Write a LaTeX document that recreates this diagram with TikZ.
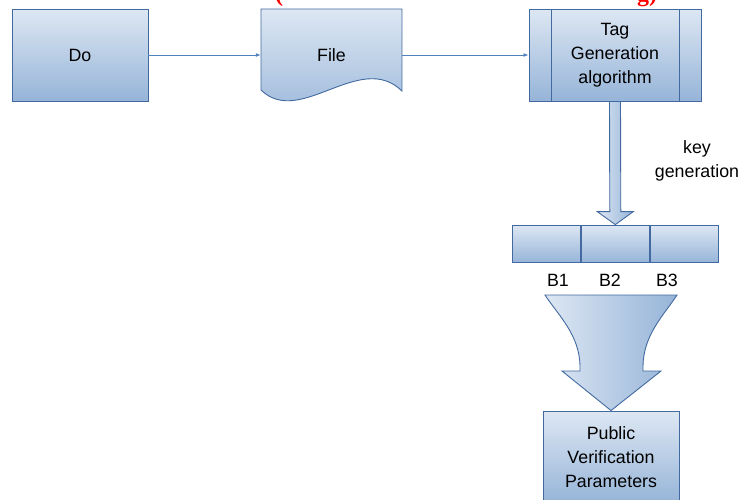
\documentclass[tikz,border=0pt]{standalone}
\usepackage{fontspec}
\setmainfont{Liberation Sans}
\newfontfamily\serifred{Liberation Serif}
\usetikzlibrary{arrows.meta}
\definecolor{boxtop}{RGB}{221,231,243}
\definecolor{boxbot}{RGB}{150,180,216}
\definecolor{boxline}{RGB}{66,106,160}
\definecolor{linkline}{RGB}{79,129,189}
\definecolor{titlered}{RGB}{255,0,0}
\tikzset{
  shaded/.style={top color=boxtop, bottom color=boxbot, draw=boxline, line width=0.9pt},
  hshaded/.style={left color=boxtop, right color=boxbot, draw=boxline, line width=0.9pt},
  procbox/.style={shaded, rectangle, minimum width=136pt, minimum height=92pt, inner sep=0pt,
    align=center, font=\fontsize{17.8}{24}\selectfont, text=black},
  cell/.style={shaded, rectangle, minimum width=68pt, minimum height=37.5pt, inner sep=0pt},
  lbl/.style={font=\fontsize{17.8}{24}\selectfont, text=black, align=center, inner sep=0pt},
  link/.style={draw=linkline, line width=0.9pt, -{Latex[length=5pt,width=4pt]}}
}
\begin{document}
\begin{tikzpicture}[x=1pt,y=-1pt]
\useasboundingbox (0,0) rectangle (739,499);

% red heading, only its lowest part falls on the page
\node[anchor=base, text=titlered, font=\serifred\bfseries\fontsize{24}{28}\selectfont, inner sep=0pt] (hl) at (279,1) {(};
\node[anchor=base, text=titlered, font=\serifred\bfseries\fontsize{24}{28}\selectfont, inner sep=0pt] (hr) at (647,1) {g)};

% data owner
\node[procbox] (do) at (80,55) {Do};

% file (document shape)
\node[minimum width=141pt, minimum height=92pt, inner sep=0pt] (file) at (331.5,55) {};
\path[shaded] (261,9) -- (402,9) -- (402,91)
  .. controls (360,50) and (300,128) .. (261,90) -- cycle;
\node[lbl] at (file.center) {File};

% tag generation (predefined process)
\node[procbox, minimum width=172pt] (tag) at (615,55) {Tag\\Generation\\algorithm};
\draw[boxline, line width=0.9pt] ([xshift=22.5pt]tag.north west) -- ([xshift=22.5pt]tag.south west);
\draw[boxline, line width=0.9pt] ([xshift=-22.5pt]tag.north east) -- ([xshift=-22.5pt]tag.south east);

% connectors
\draw[link] (do.east) -- (file.west);
\draw[link] (file.east) -- (tag.west);

% block cells
\node[cell] (b2) at (615.3,243.8) {};
\node[cell, anchor=east] (b1) at (b2.west) {};
\node[cell, anchor=west] (b3) at (b2.east) {};

% block arrow from tag generation to the cells
\path[hshaded] ([xshift=-5.5pt]tag.south) -- ([xshift=5.5pt]tag.south)
  -- ([xshift=5.5pt,yshift=13pt]b2.north) -- ([xshift=18pt,yshift=13pt]b2.north)
  -- (b2.north) -- ([xshift=-18pt,yshift=13pt]b2.north)
  -- ([xshift=-5.5pt,yshift=13pt]b2.north) -- cycle;
\node[lbl] (kg) at (697,161) {key\\generation};

% block labels
\node[lbl] (l1) at (558,280) {B1};
\node[lbl] (l2) at (610,280) {B2};
\node[lbl] (l3) at (667,280) {B3};

% result box
\node[procbox] (pub) at (611,457) {Public\\Verification\\Parameters};

% funnel arrow
\path[hshaded] (545,295) -- (677,295)
  .. controls (664,315) and (643,335) .. (643,367) -- (643,371) -- (661,371)
  -- (pub.north)
  -- (562,371) -- (580,371) -- (580,367)
  .. controls (580,335) and (558,315) .. (545,295) -- cycle;

\end{tikzpicture}
\end{document}
